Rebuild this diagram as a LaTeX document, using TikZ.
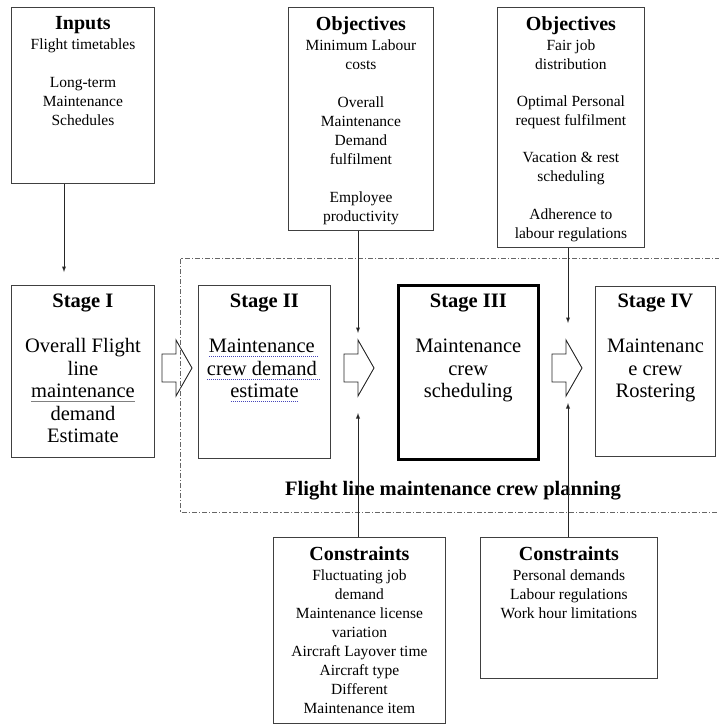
\documentclass[tikz,border=0pt]{standalone}
\usepackage{fontspec}
\setmainfont{Liberation Serif}
\usepackage{xcolor}
\usetikzlibrary{positioning}

\newcommand\hdf{\fontsize{20}{22}\selectfont\bfseries}
\newsavebox\ulbox
\newcommand\blueul[1]{\sbox\ulbox{#1}\rlap{\textcolor{blue!45!gray}{\hbox to \wd\ulbox{\leaders\hbox{\kern.5pt\rule[-.45ex]{1pt}{.6pt}\kern.5pt}\hfill}}}\usebox\ulbox}
\newcommand\grayul[1]{\sbox\ulbox{#1}\rlap{\textcolor{black!50}{\rule[-.45ex]{\wd\ulbox}{.6pt}}}\usebox\ulbox}

\begin{document}
\begin{tikzpicture}[x=1pt,y=-1pt]%
  \tikzstyle{boxn}=[rectangle,draw=black!75,line width=0.9pt,anchor=north west,inner sep=0]
  \tikzstyle{txt}=[anchor=north,align=center,inner sep=0,font=\fontsize{15.5}{19}\selectfont]
  \tikzstyle{stxt}=[anchor=north,align=center,inner sep=0,font=\fontsize{20.5}{22.5}\selectfont]
  \tikzstyle{feed}=[draw=black!85,line width=0.9pt,-latex]
  \tikzstyle{blk}=[draw=black!85,line width=0.9pt,fill=white]
  \useasboundingbox (0,0) rectangle (718,726);
  \node(plan)[font=\fontsize{20.5}{22}\selectfont\bfseries] at (453,491) {Flight line maintenance crew planning};
  % top row
  \node(inp)[boxn,minimum width=143,minimum height=176] at (11,7) {};
  \node(inp-t)[txt,below=9pt of inp.north] {{\hdf Inputs}\\[1pt]
    Flight timetables\\[19pt] Long-term\\ Maintenance\\ Schedules};
  \node(ob1)[boxn,minimum width=145,minimum height=223] at (288,7) {};
  \node(ob1-t)[txt,below=9pt of ob1.north] {{\hdf Objectives}\\[1pt]
    Minimum Labour\\ costs\\[19pt] Overall\\ Maintenance\\ Demand\\ fulfilment\\[19pt]
    Employee\\ productivity};
  \node(ob2)[boxn,minimum width=147,minimum height=240] at (497,7) {};
  \node(ob2-t)[txt,below=9pt of ob2.north] {{\hdf Objectives}\\[1pt]
    Fair job\\ distribution\\[18pt] Optimal Personal\\ request fulfilment\\[18pt]
    Vacation \& rest\\ scheduling\\[19pt] Adherence to\\ labour regulations};
  % stages
  \node(s1)[boxn,minimum width=143,minimum height=172] at (11,285) {};
  \node(s1-t)[stxt,below=9pt of s1.north] {\textbf{Stage I}\\[22.5pt]
    Overall Flight\\ line\\ \grayul{maintenance}\\ demand\\ Estimate};
  \node(s2)[boxn,minimum width=132,minimum height=173] at (198,285) {};
  \node(s2-t)[stxt,below=9pt of s2.north] {\textbf{Stage II}\\[22.5pt]
    \blueul{Maintenance\ }\\ \blueul{crew demand\ }\\ \blueul{estimate}};
  \node(s3)[boxn,draw=black,line width=2.6pt,minimum width=140,minimum height=174] at (397,284) {};
  \node(s3-t)[stxt,below=10pt of s3.north] {\textbf{Stage III}\\[22.5pt]
    Maintenance\\ crew\\ scheduling};
  \node(s4)[boxn,minimum width=120,minimum height=170] at (595,286) {};
  \node(s4-t)[stxt,below=8pt of s4.north] {\textbf{Stage IV}\\[22.5pt]
    Maintenanc\\ e crew\\ Rostering};
  % bottom row
  \node(cn1)[boxn,minimum width=172,minimum height=186] at (273,537) {};
  \node(cn1-t)[txt,below=9pt of cn1.north] {{\hdf Constraints}\\[1pt]
    Fluctuating job\\ demand\\ Maintenance license\\ variation\\
    Aircraft Layover time\\ Aircraft type\\ Different\\ Maintenance item};
  \node(cn2)[boxn,minimum width=177,minimum height=141] at (480,537) {};
  \node(cn2-t)[txt,below=9pt of cn2.north] {{\hdf Constraints}\\[1pt]
    Personal demands\\ Labour regulations\\ Work hour limitations};
  % block arrows between stages
  \foreach \x in {162,344,552}
    \draw[blk] (\x,354) -- ++(14,0) -- ++(0,-14) -- ++(16,28) -- ++(-16,28)
      -- ++(0,-14) -- ++(-14,0) -- cycle;
  % planning frame
  \draw[black!60,line width=0.9pt,dash pattern=on 5pt off 2pt on 1.2pt off 2pt]
    (720,258) -| (180,512) -- (720,512);
  % feeds
  \coordinate (s1in) at (64,272);
  \coordinate (a23top) at (358,333);
  \coordinate (a23bot) at (358,413);
  \coordinate (a34top) at (568,323);
  \coordinate (a34bot) at (568,403);
  \draw[feed] (inp.south -| s1in) -- (s1in);
  \draw[feed] (ob1.south -| a23top) -- (a23top);
  \draw[feed] (cn1.north -| a23bot) -- (a23bot);
  \draw[feed] (ob2.south -| a34top) -- (a34top);
  \draw[feed] (cn2.north -| a34bot) -- (a34bot);
\end{tikzpicture}
\end{document}
